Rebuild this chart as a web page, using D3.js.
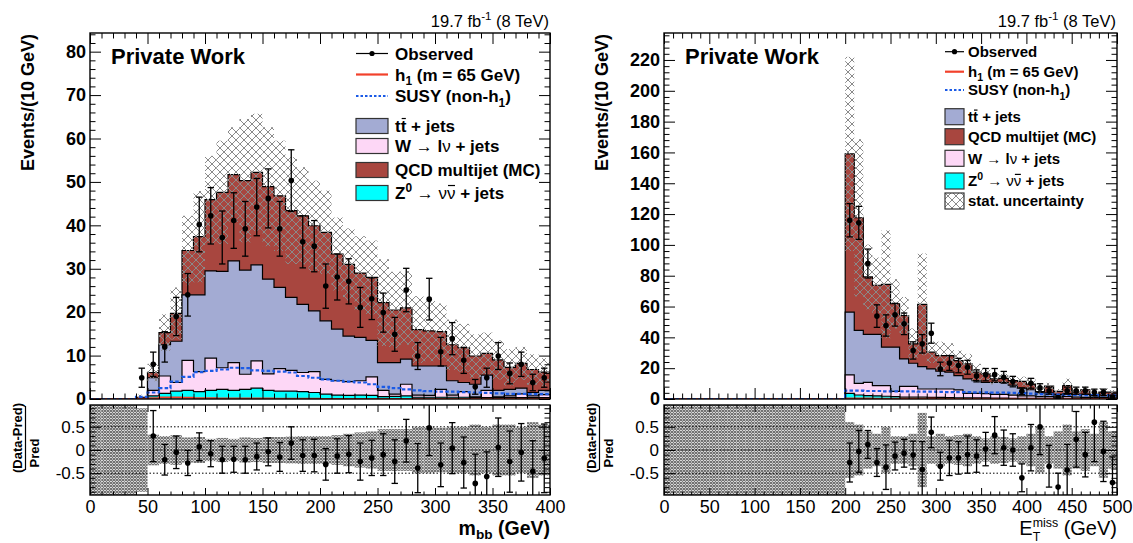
<!DOCTYPE html>
<html><head><meta charset="utf-8">
<script src="https://cdn.jsdelivr.net/npm/d3@7"></script>
<style>
body{margin:0;background:#fff}
svg{display:block}
text{font-family:"Liberation Sans",Arial,Helvetica,sans-serif}
</style>
</head><body>
<svg id="c" width="1133" height="543"></svg>
<script>
// ===================== DATA =====================
// ---- left panel: m_bb, 40 bins of 10 GeV from 0 ----
const mbbStart = 0, mbbWidth = 10;
const mbbZ   = [0,0,0,0,0.1, 0.7,1.3,1.8,2.0,1.7, 2.0,2.2,2.0,2.2,2.5, 2.0,1.8,1.8,1.7,1.5, 1.1,0.9,0.85,0.9,0.85, 0.55,0.6,0.7,0.4,0.4, 0.4,0.4,0.4,0.3,0.3, 0.3,0.3,0.3,0.3,0.3];
const mbbW   = [0,0,0,0,0.1, 1.3,4.0,2.0,6.9,4.6, 7.4,5.0,6.4,3.5,6.3, 3.8,5.2,4.8,4.4,4.8, 3.4,3.3,3.15,3.3,4.25, 1.45,0.5,2.7,0.5,0.45, 1.8,0.5,1.3,0.2,1.7, 0.2,0.4,0.9,0.4,0.7];
const mbbTT  = [0,0,0,0,0.1, 2.9,7.2,9.5,15.1,17.7, 20.1,22.2,23.4,24.0,22.1, 21.8,18.7,16.8,15.7,14.0, 13.5,11.9,10.5,10.0,8.4, 6.4,7.3,5.8,6.7,6.75, 5.4,3.3,2.1,2.9,3.5, 1.5,1.5,1.3,0.8,1.0];
const mbbQCD = [0,0,0,0,0.1, 1.2,2.8,6.4,10.2,13.4, 16.4,18.2,19.9,20.6,21.3, 21.3,21.1,20.0,20.4,19.6, 20.4,17.3,16.5,14.8,14.5, 13.8,12.1,11.8,8.4,8.1, 7.9,8.3,8.0,6.5,5.0, 7.0,5.1,5.7,5.3,4.2];
const mbbStatErr = [0,0,0,0,0.6, 2.0,4.2,6.0,8.0,10.5, 10.1,11.9,10.9,14.2,13.5, 13.7,12.7,12.3,11.2,10.4, 9.6,8.4,8.3,8.5,8.5, 10.0,8.8,8.5,7.7,7.0, 6.5,5.8,5.5,5.0,4.8, 4.5,4.2,3.8,3.5,3.2];
const mbbSusy = [0,0,0,0,0.5, 1.5,2.5,4.0,5.1,6.2, 6.5,6.8,7.2,7.1,6.6, 6.5,6.3,6.1,5.3,4.9, 4.5,4.2,4.0,3.8,3.4, 2.8,2.5,2.2,2.0,1.8, 1.7,1.7,1.6,1.5,1.4, 1.3,1.2,1.2,1.1,1.1];
const mbbH1 = [0,0,0,0,0.05, 0.2,0.35,0.35,0.3,0.2, 0.15,0.1,0.1,0.1,0.1, 0.1,0.05,0.05,0.05,0.05, 0,0,0,0,0, 0,0,0,0,0, 0,0,0,0,0, 0,0,0,0,0];
const mbbData = [null,null,null,null,4.9, 8.0,12.0,19.0,24.0,40.2, 42.2,37.2,41.1,39.2,44.2, 46.2,39.2,50.3,36.2,35.2, 26.0,28.1,27.1,21.1,23.1, 19.9,14.9,25.1,9.9,23.0, 10.9,13.9,8.9,2.8,4.9, 9.9,5.9,8.0,3.8,4.9];
const mbbDataErr = [null,null,null,null,2.2, 2.8,3.5,4.4,4.9,6.3, 6.5,6.1,6.4,6.3,6.6, 6.8,6.3,7.1,6.0,5.9, 5.1,5.3,5.2,4.6,4.8, 4.5,3.9,5.0,3.1,4.8, 3.3,3.7,3.0,1.7,2.2, 3.1,2.4,2.8,1.9,2.2];
const mbbRatio = [null,null,null,null,null, 0.30,-0.21,-0.05,-0.28,0.07, -0.08,-0.21,-0.20,-0.21,-0.14, -0.04,-0.15,0.15,-0.12,-0.12, -0.31,-0.13,-0.09,-0.25,-0.17, -0.10,-0.25,0.20,-0.39,0.48, -0.32,0.04,-0.27,-0.72,-0.57, 0.06,-0.25,-0.05,-0.46,-0.18];
const mbbRatioErr = [null,null,null,null,null, 0.55,0.33,0.35,0.27,0.30, 0.28,0.29,0.28,0.29,0.29, 0.30,0.31,0.35,0.34,0.35, 0.34,0.37,0.40,0.40,0.38, 0.45,0.47,0.46,0.53,0.60, 0.47,0.55,0.55,0.63,0.53, 0.63,0.66,0.62,0.66,0.74];
const mbbRatioBand = [1,1,1,1,0.9, 0.33,0.30,0.32,0.27,0.28, 0.24,0.26,0.24,0.27,0.26, 0.28,0.28,0.29,0.30,0.30, 0.30,0.32,0.35,0.38,0.40, 0.45,0.45,0.45,0.50,0.50, 0.48,0.50,0.50,0.55,0.50, 0.55,0.55,0.50,0.60,0.55];

// ---- right panel: E_T^miss, 50 bins of 10 GeV from 0 ----
const metStart = 0, metWidth = 10;
const metZ   = [0,0,0,0,0,0,0,0,0,0, 0,0,0,0,0,0,0,0,0,0, 3.7,2.6,2.2,2.0,1.8, 1.5,1.2,1.2,1.2,1.0, 1.0,0.9,0.8,0.8,0.7, 0.7,0.6,0.6,0.5,0.5, 0.5,0.4,0.4,0.3,0.3, 0.3,0.3,0.2,0.2,0.2];
const metW   = [0,0,0,0,0,0,0,0,0,0, 0,0,0,0,0,0,0,0,0,0, 11.9,7.6,8.6,6.7,6.9, 3.5,7.0,7.0,5.3,5.5, 5.5,5.6,5.1,2.9,3.0, 2.8,2.4,2.4,2.0,1.5, 1.5,1.1,1.1,0.9,1.2, 0.9,0.7,0.8,0.8,0.6];
const metTT  = [0,0,0,0,0,0,0,0,0,0, 0,0,0,0,0,0,0,0,0,0, 40.8,34.3,31.1,33.2,24.9, 28.6,17.8,15.0,14.5,13.0, 11.5,10.9,9.3,9.3,8.2, 7.3,7.8,7.8,6.5,5.0, 4.0,2.5,2.5,1.8,2.0, 1.8,2.0,1.0,1.5,1.2];
const metQCD = [0,0,0,0,0,0,0,0,0,0, 0,0,0,0,0,0,0,0,0,0, 102.6,73.1,37.3,31.9,40.8, 28.2,28.2,12.6,40.4,10.9, 10.2,10.8,9.7,9.8,5.5, 5.5,2.2,2.6,2.9,4.5, 3.7,0.8,4.3,2.0,5.2, 1.4,3.0,0.7,1.9,2.4];
const metStatErr = [0,0,0,0,0,0,0,0,0,0, 0,0,0,0,0,0,0,0,0,0, 63,51,21,18,35, 16,12,10,33,7, 9,8,6.5,6.5,5.4, 4,3.5,3,2.5,3, 3.5,3,2.2,1.5,4.5, 2,2,1.5,2.5,1.5];
const metSusy = [0,0,0,0,0,0,0,0,0,0, 0,0,0,0,0,0,0,0,0,0, 5.4,5.4,5.2,5.2,5.0, 5.0,5.0,5.0,4.8,4.8, 4.6,4.5,4.4,4.4,4.3, 4.3,4.2,4.2,4.0,3.8, 3.5,3.2,3.0,2.8,2.6, 2.6,2.5,2.5,2.4,2.4];
const metH1 = [0,0,0,0,0,0,0,0,0,0, 0,0,0,0,0,0,0,0,0,0, 0.4,0.3,0.3,0.2,0.2, 0.2,0.1,0.1,0.1,0.1, 0.05,0.05,0.05,0.05,0.05, 0,0,0,0,0, 0,0,0,0,0, 0,0,0,0,0];
const metData = [null,null,null,null,null,null,null,null,null,null, null,null,null,null,null,null,null,null,null,null, 116,114.3,87.9,53.8,47.7, 54.7,48.8,31.5,35.8,42.7, 19.5,23.4,21.7,20.6,15.0, 15.8,15.8,14.1,11.3,5.0, 10.2,7.2,5.4,1.0,5.4, 5.4,5.4,4.3,4.3,1.3];
const metDataErr = [null,null,null,null,null,null,null,null,null,null, null,null,null,null,null,null,null,null,null,null, 10.8,10.7,9.4,7.3,6.9, 7.4,7.0,5.6,6.0,6.5, 4.4,4.8,4.7,4.5,3.9, 4.0,4.0,3.8,3.4,2.2, 3.2,2.7,2.3,1.0,2.3, 2.3,2.3,2.1,2.1,1.1];
const metRatio = [null,null,null,null,null,null,null,null,null,null, null,null,null,null,null,null,null,null,null,null, -0.27,-0.03,0.12,-0.27,-0.37, -0.13,-0.07,-0.11,-0.42,0.38, -0.35,-0.17,-0.17,-0.10,-0.13, 0.02,0.32,0.05,0.00,-0.60, 0.05,0.50,-0.35,-0.80,-0.43, 0.23,-0.10,0.60,-0.03,-0.70];
const metRatioErr = [null,null,null,null,null,null,null,null,null,null, null,null,null,null,null,null,null,null,null,null, 0.42,0.45,0.30,0.30,0.48, 0.30,0.30,0.30,0.60,0.33, 0.30,0.38,0.35,0.40,0.35, 0.36,0.40,0.38,0.35,0.30, 0.50,0.60,0.45,0.30,0.55, 0.60,0.48,0.85,0.65,0.55];
const metRatioBand = [1,1,1,1,1,1,1,1,1,1, 1,1,1,1,1,1,1,1,1,1, 0.60,0.55,0.40,0.35,0.50, 0.30,0.30,0.35,0.80,0.30, 0.35,0.30,0.32,0.35,0.30, 0.25,0.30,0.28,0.25,0.30, 0.35,0.50,0.30,0.40,0.55, 0.40,0.45,0.35,0.60,0.40];

// tick values
const mbbXTicks = [0,50,100,150,200,250,300,350,400];
const metXTicks = [0,50,100,150,200,250,300,350,400,450,500];
const mbbYTicks = [0,10,20,30,40,50,60,70,80];
const metYTicks = [0,20,40,60,80,100,120,140,160,180,200,220];
const ratioTicks = [-0.5,0,0.5];

// ===================== STYLE =====================
const COL = {Z:'#00ffff', W:'#fdd7f6', TT:'#a3abd3', QCD:'#a8463f'};
const H1C = '#f2412b', SUSYC = '#1a5ae6', HATCH = '#8a8a8a';

const svg = d3.select('#c');
svg.append('rect').attr('width',1133).attr('height',543).attr('fill','#fff');
const defs = svg.append('defs');
defs.append('pattern').attr('id','xh').attr('patternUnits','userSpaceOnUse').attr('width',8).attr('height',8)
  .append('path').attr('d','M0,0L8,8M8,0L0,8').attr('stroke',HATCH).attr('stroke-width',1).attr('fill','none');
defs.append('pattern').attr('id','xr').attr('patternUnits','userSpaceOnUse').attr('width',3).attr('height',3)
  .append('path').attr('d','M0,0L3,3M3,0L0,3').attr('stroke','#6a6a6a').attr('stroke-width',1.05).attr('fill','none');

// rich text helper
function rich(parent, segs, x, y, o) {
  const fs = o.size;
  const t = parent.append('text').attr('x', x).attr('y', y).attr('font-size', fs)
    .attr('font-weight', o.bold ? 'bold' : 'normal').attr('text-anchor', o.anchor || 'start').attr('fill', '#000');
  if (o.rotate) t.attr('transform', `rotate(-90,${x},${y})`);
  let shift = 0, idx = 0, prev = null;
  const overs = [];
  const small = o.small || 0.7;
  segs.forEach(s => {
    const target = s.sub ? fs * (o.subShift || 0.28) : s.sup ? -fs * (o.supShift || 0.42) : 0;
    const ts = t.append('tspan').text(s.t).attr('dy', target - shift);
    shift = target;
    if (s.sub || s.sup) ts.attr('font-size', fs * small);
    if (s.sym) ts.attr('font-weight', 'normal');
    if (s.back && prev) ts.attr('dx', -prev.node().getComputedTextLength());
    if (s.over) overs.push({start: idx, len: s.t.length});
    idx += s.t.length;
    prev = ts;
  });
  overs.forEach(ov => {
    const n = t.node();
    const a = n.getExtentOfChar(ov.start), b = n.getExtentOfChar(ov.start + ov.len - 1);
    parent.append('line').attr('x1', a.x + 1).attr('x2', b.x + b.width - 0.5)
      .attr('y1', y - fs * 0.80).attr('y2', y - fs * 0.80).attr('stroke', '#000').attr('stroke-width', 1.2);
  });
  return t;
}

function axis(g, scale, orient, pos, vals, len, fmt, size, bold, pad) {
  const gen = ({b: d3.axisBottom, t: d3.axisTop, l: d3.axisLeft, r: d3.axisRight})[orient](scale)
    .tickValues(vals).tickSize(-len).tickPadding(pad || 4).tickFormat(fmt || (() => ''));
  const a = g.append('g').attr('transform', (orient === 'b' || orient === 't') ? `translate(0,${pos})` : `translate(${pos},0)`).call(gen);
  a.select('.domain').remove();
  a.attr('font-family', null).attr('font-size', size || 10).attr('font-weight', bold ? 'bold' : 'normal');
  a.selectAll('line').attr('stroke', '#000').attr('stroke-width', 1);
  a.selectAll('text').attr('fill', '#000');
  return a;
}

function minorVals(lo, hi, step, majStep) {
  return d3.range(lo, hi + 1e-9, step).filter(v => Math.abs(v / majStep - Math.round(v / majStep)) > 1e-6);
}

function errPoints(g, pts, x, y) {
  const gg = g.append('g');
  pts.forEach(p => {
    const cx = x(p.xc);
    gg.append('line').attr('x1', cx).attr('x2', cx).attr('y1', y(p.v - p.e)).attr('y2', y(p.v + p.e)).attr('stroke', '#000').attr('stroke-width', 1.3);
    [p.v - p.e, p.v + p.e].forEach(v => gg.append('line').attr('x1', cx - 3.2).attr('x2', cx + 3.2).attr('y1', y(v)).attr('y2', y(v)).attr('stroke', '#000').attr('stroke-width', 1.3));
    gg.append('circle').attr('cx', cx).attr('cy', y(p.v)).attr('r', 2.8).attr('fill', '#000');
  });
}

function panel(P, D) {
  const x = d3.scaleLinear().domain(P.xDom).range([P.x0, P.x1]);
  const y = d3.scaleLinear().domain([0, P.yMax]).range([P.yB, P.yT]);
  const r = d3.scaleLinear().domain([-P.rMax, P.rMax]).range([P.rB, P.rT]);
  const n = D.Z.length;
  const bins = d3.range(n).map(i => ({lo: D.start + i * D.width, hi: D.start + (i + 1) * D.width,
    Z: D.Z[i], W: D.W[i], TT: D.TT[i], QCD: D.QCD[i]}));
  const series = d3.stack().keys(['Z', 'W', 'TT', 'QCD'])(bins);
  const totals = series[series.length - 1].map(d => d[1]);

  defs.append('clipPath').attr('id', 'cm' + P.id).append('rect').attr('x', P.x0).attr('y', P.yT).attr('width', P.x1 - P.x0).attr('height', P.yB - P.yT);
  defs.append('clipPath').attr('id', 'cr' + P.id).append('rect').attr('x', P.x0).attr('y', P.rT).attr('width', P.x1 - P.x0).attr('height', P.rB - P.rT);

  const gm = svg.append('g').attr('clip-path', `url(#cm${P.id})`);
  const pts = vals => { const a = bins.map((b, i) => ({x: b.lo, v: vals[i]})); a.push({x: bins[n - 1].hi, v: vals[n - 1]}); return a; };
  const area = d3.area().curve(d3.curveStepAfter).x(d => x(d.x)).y0(y(0)).y1(d => y(d.v));
  const line = d3.line().curve(d3.curveStepAfter).x(d => x(d.x)).y(d => y(d.v));

  series.slice().reverse().forEach(s => {
    const tops = s.map(d => d[1]);
    gm.append('path').attr('d', area(pts(tops))).attr('fill', COL[s.key]);
    gm.append('path').attr('d', line(pts(tops))).attr('fill', 'none').attr('stroke', '#000').attr('stroke-width', 1.2);
  });
  // stat uncertainty hatch
  gm.selectAll(null).data(bins.map((b, i) => ({b, t: totals[i], e: D.err[i]})).filter(d => d.e > 0)).join('rect')
    .attr('x', d => x(d.b.lo)).attr('width', d => x(d.b.hi) - x(d.b.lo))
    .attr('y', d => y(d.t + d.e)).attr('height', d => y(Math.max(0, d.t - d.e)) - y(d.t + d.e))
    .attr('fill', 'url(#xh)');
  // signals
  gm.append('path').attr('d', line(pts(D.h1))).attr('fill', 'none').attr('stroke', H1C).attr('stroke-width', 2);
  gm.append('path').attr('d', line(pts(D.susy))).attr('fill', 'none').attr('stroke', SUSYC).attr('stroke-width', 2.2).attr('stroke-dasharray', '3.5,2.2');
  // data
  errPoints(gm, bins.map((b, i) => ({xc: (b.lo + b.hi) / 2, v: D.data[i], e: D.dataErr[i]})).filter(p => p.v != null), x, y);

  // ratio
  const gr = svg.append('g').attr('clip-path', `url(#cr${P.id})`);
  gr.selectAll(null).data(bins.map((b, i) => ({b, e: D.band[i]}))).join('rect')
    .attr('x', d => x(d.b.lo)).attr('width', d => x(d.b.hi) - x(d.b.lo))
    .attr('y', d => r(Math.min(d.e, P.rMax + 0.1))).attr('height', d => r(-Math.min(d.e, P.rMax + 0.1)) - r(Math.min(d.e, P.rMax + 0.1)))
    .attr('fill', 'url(#xr)');
  ratioTicks.forEach(v => gr.append('line').attr('x1', P.x0).attr('x2', P.x1).attr('y1', r(v)).attr('y2', r(v))
    .attr('stroke', '#000').attr('stroke-width', 1).attr('stroke-dasharray', '1.5,2'));
  errPoints(gr, bins.map((b, i) => ({xc: (b.lo + b.hi) / 2, v: D.ratio[i], e: D.ratioErr[i]})).filter(p => p.v != null), x, r);

  // axes (inside ticks on all sides)
  const ga = svg.append('g');
  const xMin = minorVals(P.xDom[0], P.xDom[1], 10, 50);
  axis(ga, x, 't', P.yT, P.xTicks, 11);
  axis(ga, x, 't', P.yT, xMin, 5.5);
  axis(ga, x, 'b', P.yB, P.xTicks, 11);
  axis(ga, x, 'b', P.yB, xMin, 5.5);
  const yMin = minorVals(0, P.yMax, P.yMinor, P.yMajor);
  axis(ga, y, 'l', P.x0, P.yTicks, 11, d => d, 18, true, 4);
  axis(ga, y, 'l', P.x0, yMin, 5.5);
  axis(ga, y, 'r', P.x1, P.yTicks, 11);
  axis(ga, y, 'r', P.x1, yMin, 5.5);
  // ratio axes
  axis(ga, x, 't', P.rT, P.xTicks, 7);
  axis(ga, x, 't', P.rT, xMin, 3.5);
  axis(ga, x, 'b', P.rB, P.xTicks, 7, d => d, 18, false, 5);
  axis(ga, x, 'b', P.rB, xMin, 3.5);
  const rMin = minorVals(-0.9, 0.9, 0.1, 0.5);
  axis(ga, r, 'l', P.x0, ratioTicks, 11, d => String(d), 17, false, 5);
  axis(ga, r, 'l', P.x0, rMin, 5.5);
  axis(ga, r, 'r', P.x1, ratioTicks, 11);
  axis(ga, r, 'r', P.x1, rMin, 5.5);

  ga.append('rect').attr('x', P.x0).attr('y', P.yT).attr('width', P.x1 - P.x0).attr('height', P.yB - P.yT).attr('fill', 'none').attr('stroke', '#000').attr('stroke-width', 1.4);
  ga.append('rect').attr('x', P.x0).attr('y', P.rT).attr('width', P.x1 - P.x0).attr('height', P.rB - P.rT).attr('fill', 'none').attr('stroke', '#000').attr('stroke-width', 1.4);

  // texts
  rich(svg, [{t: 'Private Work'}], P.x0 + 21, 63.5, {size: 22, bold: true});
  rich(svg, [{t: '19.7 fb'}, {t: '-1', sup: 1}, {t: ' (8 TeV)'}], P.x1 - 1, 27, {size: 16.5, anchor: 'end'});
  rich(svg, [{t: 'Events/(10 GeV)'}], P.x0 - 56.5, 34, {size: 18, bold: true, anchor: 'end', rotate: true});
  // ratio y title as fraction
  rich(svg, [{t: '(Data-Pred)'}], P.x0 - 68, 438, {size: 13, bold: true, anchor: 'middle', rotate: true});
  svg.append('line').attr('x1', P.x0 - 64.5).attr('x2', P.x0 - 64.5).attr('y1', 406).attr('y2', 470).attr('stroke', '#000').attr('stroke-width', 1.2);
  rich(svg, [{t: 'Pred'}], P.x0 - 51, 453, {size: 13, bold: true, anchor: 'middle', rotate: true});
  rich(svg, P.xTitle, P.x1, P.xTitleY, P.xTitleStyle);

  // legend
  const L = P.legend;
  L.rows.forEach((row, j) => {
    const cy = L.ys[j];
    if (row.kind === 'data') {
      svg.append('line').attr('x1', L.sx).attr('x2', L.sx + L.sw).attr('y1', cy).attr('y2', cy).attr('stroke', '#000').attr('stroke-width', 1.2);
      svg.append('circle').attr('cx', L.sx + L.sw / 2).attr('cy', cy).attr('r', 2.6).attr('fill', '#000');
    } else if (row.kind === 'line') {
      svg.append('line').attr('x1', L.sx).attr('x2', L.sx + L.sw).attr('y1', cy).attr('y2', cy).attr('stroke', row.color).attr('stroke-width', 2.2)
        .attr('stroke-dasharray', row.dash || null);
    } else {
      svg.append('rect').attr('x', L.sx).attr('y', cy - L.bh / 2).attr('width', L.sw).attr('height', L.bh)
        .attr('fill', row.kind === 'hatch' ? 'url(#xh)' : row.color).attr('stroke', '#333').attr('stroke-width', 1.2);
    }
    rich(svg, row.segs, L.tx, cy + L.size * 0.36, {size: L.size, bold: true});
  });
}

const LBL = {
  obs: {kind: 'data', segs: [{t: 'Observed'}]},
  h1: {kind: 'line', color: H1C, segs: [{t: 'h'}, {t: '1', sub: 1}, {t: ' (m = 65 GeV)'}]},
  susy: {kind: 'line', color: SUSYC, dash: '2.5,2', segs: [{t: 'SUSY (non-h'}, {t: '1', sub: 1}, {t: ')'}]},
  tt: {kind: 'box', color: COL.TT, segs: [{t: 't'}, {t: 't', over: 1}, {t: ' + jets'}]},
  w: {kind: 'box', color: COL.W, segs: [{t: 'W '}, {t: '→', sym: 1}, {t: ' l'}, {t: 'ν', sym: 1}, {t: ' + jets'}]},
  qcd: {kind: 'box', color: COL.QCD, segs: [{t: 'QCD multijet (MC)'}]},
  z: {kind: 'box', color: COL.Z, segs: [{t: 'Z'}, {t: '0', sup: 1}, {t: ' '}, {t: '→', sym: 1}, {t: ' '}, {t: 'ν', sym: 1}, {t: 'ν', sym: 1, over: 1}, {t: ' + jets'}]},
  stat: {kind: 'hatch', segs: [{t: 'stat. uncertainty'}]}
};

panel({
  id: 'L', x0: 90, x1: 550, yT: 33, yB: 399, rT: 405, rB: 495, rMax: 0.97,
  xDom: [0, 400], yMax: 84.3, yMajor: 10, yMinor: 2, xTicks: mbbXTicks, yTicks: mbbYTicks,
  xTitle: [{t: 'm'}, {t: 'bb', sub: 1}, {t: ' (GeV)'}], xTitleY: 534.5,
  xTitleStyle: {size: 19.5, bold: true, anchor: 'end', subShift: 0.24},
  legend: {sx: 356, sw: 32, bh: 15, tx: 395, size: 17, ys: [53.5, 74.5, 96, 126, 146, 170, 193],
    rows: [LBL.obs, LBL.h1, LBL.susy, LBL.tt, LBL.w, LBL.qcd, LBL.z]}
}, {start: mbbStart, width: mbbWidth, Z: mbbZ, W: mbbW, TT: mbbTT, QCD: mbbQCD, err: mbbStatErr,
    susy: mbbSusy, h1: mbbH1, data: mbbData, dataErr: mbbDataErr, ratio: mbbRatio, ratioErr: mbbRatioErr, band: mbbRatioBand});

panel({
  id: 'R', x0: 664, x1: 1117, yT: 33, yB: 399, rT: 405, rB: 495, rMax: 0.97,
  xDom: [0, 500], yMax: 237.5, yMajor: 20, yMinor: 4, xTicks: metXTicks, yTicks: metYTicks,
  xTitle: [{t: 'E'}, {t: 'T', sub: 1}, {t: 'miss', sup: 1, back: 1}, {t: ' (GeV)'}], xTitleY: 535,
  xTitleStyle: {size: 20, bold: false, anchor: 'end', small: 0.62, supShift: 0.38},
  legend: {sx: 945, sw: 19, bh: 16, tx: 968, size: 15, ys: [51.7, 71.7, 90, 116.7, 136.7, 158.3, 181, 201],
    rows: [LBL.obs, LBL.h1, LBL.susy, LBL.tt, LBL.qcd, LBL.w, LBL.z, LBL.stat]}
}, {start: metStart, width: metWidth, Z: metZ, W: metW, TT: metTT, QCD: metQCD, err: metStatErr,
    susy: metSusy, h1: metH1, data: metData, dataErr: metDataErr, ratio: metRatio, ratioErr: metRatioErr, band: metRatioBand});
</script>
</body></html>
